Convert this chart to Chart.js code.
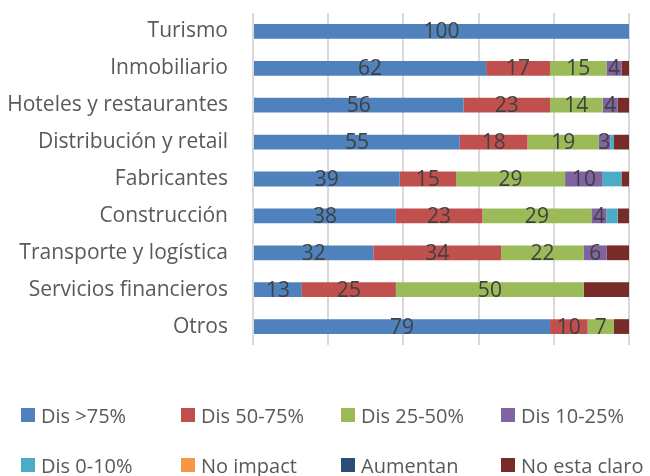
<!DOCTYPE html>
<html>
<head>
<meta charset="utf-8">
<script src="https://cdn.jsdelivr.net/npm/chart.js@4"></script>
<style>
  html, body { margin: 0; padding: 0; background: #fff; }
  #wrap { position: relative; width: 650px; height: 476px; overflow: hidden; }
  #legend { position: absolute; left: 21px; top: 390px; width: 640px; font-family: 'Open Sans', sans-serif; font-size: 20px; color: #595959; }
  .row { display: flex; height: 50px; align-items: center; }
  .item { width: 160px; display: flex; align-items: center; white-space: nowrap; }
  .box { width: 14px; height: 14px; margin-right: 6px; flex: none; }
</style>
</head>
<body>
<div id="wrap">
  <canvas id="chart" width="650" height="476"></canvas>
  <div id="legend"></div>
</div>
<script>
document.addEventListener('DOMContentLoaded', () => {

    const categorias = ['Turismo', 'Inmobiliario', 'Hoteles y restaurantes', 'Distribución y retail',
        'Fabricantes', 'Construcción', 'Transporte y logística', 'Servicios financieros', 'Otros'];

    const series = ['Dis >75%', 'Dis 50-75%', 'Dis 25-50%', 'Dis 10-25%',
        'Dis 0-10%', 'No impact', 'Aumentan', 'No esta claro'];

    const dis75   = [100, 62, 56, 55, 39, 38, 32, 13, 79];
    const dis5075 = [0, 17, 23, 18, 15, 23, 34, 25, 10];
    const dis2550 = [0, 15, 14, 19, 29, 29, 22, 50, 7];
    const dis1025 = [0, 4, 4, 3, 10, 4, 6, 0, 0];
    const dis010  = [0, 0, 0, 1, 5, 3, 0, 0, 0];
    const noImpact = [0, 0, 0, 0, 0, 0, 0, 0, 0];
    const aumentan = [0, 0, 0, 0, 0, 0, 0, 0, 0];
    const noClaro = [0, 2, 3, 4, 2, 3, 6, 12, 4];

    const valores = [dis75, dis5075, dis2550, dis1025, dis010, noImpact, aumentan, noClaro];
    const colores = ['#4F81BD', '#C0504D', '#9BBB59', '#8064A2', '#4BACC6', '#F79646', '#2C4D75', '#772C2A'];

    // etiquetas dentro de las barras (solo las cuatro primeras series)
    const etiquetas = {
        id: 'etiquetas',
        afterDatasetsDraw(chart) {
            const ctx = chart.ctx;
            ctx.save();
            ctx.font = '21px "Open Sans", sans-serif';
            ctx.fillStyle = '#404040';
            ctx.textAlign = 'center';
            ctx.textBaseline = 'middle';
            for (let d = 0; d < 4; d++) {
                const meta = chart.getDatasetMeta(d);
                meta.data.forEach((bar, i) => {
                    const v = chart.data.datasets[d].data[i];
                    if (!v) return;
                    const p = bar.getProps(['x', 'y', 'base'], true);
                    ctx.fillText(String(v), (p.x + p.base) / 2, p.y + 1);
                });
            }
            ctx.restore();
        }
    };

    Chart.defaults.font.family = '"Open Sans", sans-serif';
    Chart.defaults.color = '#595959';

    const chart = new Chart(document.getElementById('chart'), {
        type: 'bar',
        data: {
            labels: categorias,
            datasets: series.map((s, i) => ({
                label: s,
                data: valores[i],
                backgroundColor: colores[i],
                borderWidth: 0,
                barPercentage: 0.8,
                categoryPercentage: 0.5
            }))
        },
        options: {
            indexAxis: 'y',
            responsive: false,
            animation: false,
            layout: { padding: { top: 13, right: 21, bottom: 131, left: 0 } },
            plugins: { legend: { display: false }, tooltip: { enabled: false } },
            scales: {
                x: {
                    stacked: true,
                    min: 0,
                    max: 100,
                    ticks: { display: false, stepSize: 20 },
                    grid: { color: '#d9d9d9', lineWidth: 2, drawTicks: false },
                    border: { display: false },
                    afterFit: (s) => { s.height = 0; }
                },
                y: {
                    stacked: true,
                    grid: { display: false },
                    border: { display: false },
                    ticks: { font: { size: 21 }, color: '#595959', padding: 17 },
                    afterFit: (s) => {
                        s.width = 253;
                        s.paddingTop = 0;
                        s.paddingBottom = 0;
                    }
                }
            }
        },
        plugins: [etiquetas]
    });

    // leyenda en dos filas, como en el original
    const legend = document.getElementById('legend');
    for (let r = 0; r < 2; r++) {
        const row = document.createElement('div');
        row.className = 'row';
        for (let c = 0; c < 4; c++) {
            const k = r * 4 + c;
            const item = document.createElement('div');
            item.className = 'item';
            item.innerHTML = '<span class="box" style="background:' + colores[k] + '"></span><span>' + series[k] + '</span>';
            row.appendChild(item);
        }
        legend.appendChild(row);
    }
});
</script>
</body>
</html>
